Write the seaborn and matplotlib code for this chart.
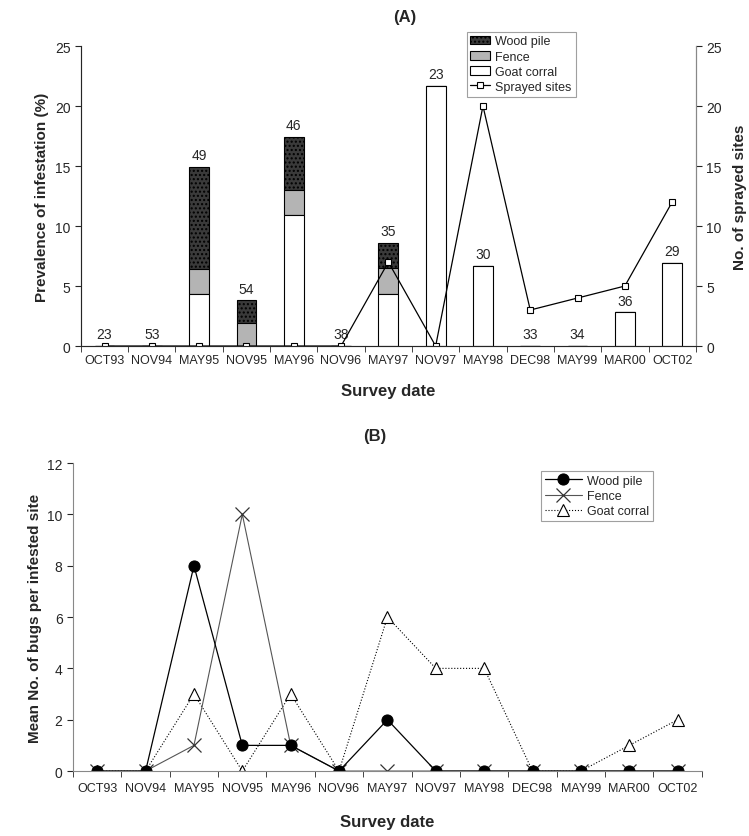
import numpy as np
import pandas as pd
import matplotlib.pyplot as plt
import seaborn as sns
from matplotlib.ticker import FixedLocator

sns.set_style("white")
plt.rcParams['font.family'] = ['Liberation Sans', 'DejaVu Sans']
plt.rcParams['hatch.color'] = '#555555'

# 调查日期
dates = ['OCT93', 'NOV94', 'MAY95', 'NOV95', 'MAY96', 'NOV96', 'MAY97',
         'NOV97', 'MAY98', 'DEC98', 'MAY99', 'MAR00', 'OCT02']

# (A) 感染率 (%)
goat_prev = [0, 0, 4.3, 0, 10.9, 0, 4.3, 21.7, 6.7, 0, 0, 2.8, 6.9]
fence_prev = [0, 0, 2.1, 1.9, 2.1, 0, 2.2, 0, 0, 0, 0, 0, 0]
wood_prev = [0, 0, 8.5, 1.9, 4.4, 0, 2.1, 0, 0, 0, 0, 0, 0]
n_sites = [23, 53, 49, 54, 46, 38, 35, 23, 30, 33, 34, 36, 29]
sprayed = [0, 0, 0, 0, 0, 0, 7, 0, 20, 3, 4, 5, 12]

# (B) 平均虫数
wood_bugs = [0, 0, 8, 1, 1, 0, 2, 0, 0, 0, 0, 0, 0]
fence_bugs = [0, 0, 1, 10, 1, 0, 0, 0, 0, 0, 0, 0, 0]
goat_bugs = [0, 0, 3, 0, 3, 0, 6, 4, 4, 0, 0, 1, 2]

x = np.arange(len(dates))
fs = 9

fig = plt.figure(figsize=(7.49, 8.37), dpi=100)

# ---------------- (A) ----------------
ax1 = fig.add_axes([0.108, 0.5854, 0.821, 0.3584])
goat_arr = np.array(goat_prev)
fence_arr = np.array(fence_prev)
wood_arr = np.array(wood_prev)
b1 = ax1.bar(x, wood_arr, 0.42, bottom=goat_arr + fence_arr, color='#3a3a3a',
             edgecolor='black', linewidth=0.8, label='Wood pile', hatch='....')
b2 = ax1.bar(x, fence_arr, 0.42, bottom=goat_arr, color='#b4b4b4',
             edgecolor='black', linewidth=0.8, label='Fence')
b3 = ax1.bar(x, goat_arr, 0.42, color='white', edgecolor='black',
             linewidth=0.8, label='Goat corral')

tops = goat_arr + fence_arr + wood_arr
for i, n in enumerate(n_sites):
    ax1.text(x[i], tops[i] + 0.4, str(n), ha='center', va='bottom', fontsize=fs + 1)

ax1.set_xlim(-0.5, len(dates) - 0.5)
ax1.set_ylim(0, 25)
ax1.set_yticks([0, 5, 10, 15, 20, 25])
ax1.set_xticks(x)
ax1.set_xticklabels(dates, fontsize=fs)
ax1.xaxis.set_minor_locator(FixedLocator(np.arange(-0.5, len(dates), 1)))
ax1.tick_params(axis='x', which='major', length=0, pad=6)
ax1.tick_params(axis='x', which='minor', length=4, direction='out', bottom=True)
ax1.tick_params(axis='y', length=4, direction='out', left=True, labelsize=fs + 1)
ax1.set_ylabel('Prevalence of infestation (%)', fontsize=fs + 2, fontweight='bold')
ax1.set_xlabel('Survey date', fontsize=fs + 3, fontweight='bold', labelpad=12)
ax1.spines['top'].set_visible(False)
for s in ['left', 'bottom', 'right']:
    ax1.spines[s].set_color('#888888')
    ax1.spines[s].set_linewidth(0.8)

ax2 = ax1.twinx()
df_spray = pd.DataFrame({'x': x, 'sprayed': sprayed})
sns.lineplot(data=df_spray, x='x', y='sprayed', ax=ax2, color='black',
             linewidth=0.9, marker='s', markersize=5, markerfacecolor='white',
             markeredgecolor='black', markeredgewidth=0.8, label='Sprayed sites')
ax2.set_ylim(0, 25)
ax2.set_yticks([0, 5, 10, 15, 20, 25])
ax2.set_xlabel('')
ax2.set_ylabel('No. of sprayed sites', fontsize=fs + 2, fontweight='bold', labelpad=8)
ax2.tick_params(axis='y', length=4, direction='out', right=True, labelsize=fs + 1)
ax2.spines['top'].set_visible(False)
ax2.spines['right'].set_color('#888888')
ax2.get_legend().remove()

h2, l2 = ax2.get_legend_handles_labels()
leg = ax1.legend([b1, b2, b3] + h2, ['Wood pile', 'Fence', 'Goat corral'] + l2,
                 loc='upper left', bbox_to_anchor=(0.623, 0.961),
                 bbox_transform=fig.transFigure, fontsize=fs,
                 frameon=True, fancybox=False, edgecolor='#888888',
                 handlelength=1.6, handletextpad=0.4, borderpad=0.3,
                 labelspacing=0.25, borderaxespad=0)
leg.get_frame().set_linewidth(0.8)

fig.text(0.54, 0.979, '(A)', ha='center', va='center', fontsize=fs + 3, fontweight='bold')

# ---------------- (B) ----------------
ax3 = fig.add_axes([0.0975, 0.0776, 0.8395, 0.368])
df_b = pd.DataFrame({'x': x, 'wood': wood_bugs, 'fence': fence_bugs, 'goat': goat_bugs})
sns.lineplot(data=df_b, x='x', y='goat', ax=ax3, color='black', linewidth=0.8,
             linestyle=':', marker='^', markersize=8, markerfacecolor='white',
             markeredgecolor='black', markeredgewidth=0.8, label='Goat corral')
sns.lineplot(data=df_b, x='x', y='fence', ax=ax3, color='#555555', linewidth=0.8,
             marker='x', markersize=10, markeredgecolor='#333333',
             markeredgewidth=0.9, label='Fence')
sns.lineplot(data=df_b, x='x', y='wood', ax=ax3, color='black', linewidth=0.9,
             marker='o', markersize=8, markerfacecolor='black',
             markeredgecolor='black', label='Wood pile')

ax3.set_xlim(-0.5, len(dates) - 0.5)
ax3.set_ylim(0, 12)
ax3.set_yticks(range(0, 13, 2))
ax3.set_xticks(x)
ax3.set_xticklabels(dates, fontsize=fs)
ax3.xaxis.set_minor_locator(FixedLocator(np.arange(-0.5, len(dates), 1)))
ax3.tick_params(axis='x', which='major', length=0, pad=8)
ax3.tick_params(axis='x', which='minor', length=4, direction='out', bottom=True)
ax3.tick_params(axis='y', length=4, direction='out', left=True, labelsize=fs + 1)
ax3.set_ylabel('Mean No. of bugs per infested site', fontsize=fs + 2, fontweight='bold')
ax3.set_xlabel('Survey date', fontsize=fs + 3, fontweight='bold', labelpad=14)
for s in ['top', 'right']:
    ax3.spines[s].set_visible(False)
for s in ['left', 'bottom']:
    ax3.spines[s].set_color('#888888')
    ax3.spines[s].set_linewidth(0.8)

h, l = ax3.get_legend_handles_labels()
order = [2, 1, 0]
leg2 = ax3.legend([h[i] for i in order], [l[i] for i in order],
                  loc='upper left', bbox_to_anchor=(0.722, 0.436),
                  bbox_transform=fig.transFigure, fontsize=fs,
                  frameon=True, fancybox=False, edgecolor='#888888',
                  handlelength=3.0, handletextpad=0.4, borderpad=0.3,
                  labelspacing=0.25, borderaxespad=0)
leg2.get_frame().set_linewidth(0.8)

fig.text(0.5, 0.478, '(B)', ha='center', va='center', fontsize=fs + 3, fontweight='bold')

plt.savefig('out.png', dpi=100)
